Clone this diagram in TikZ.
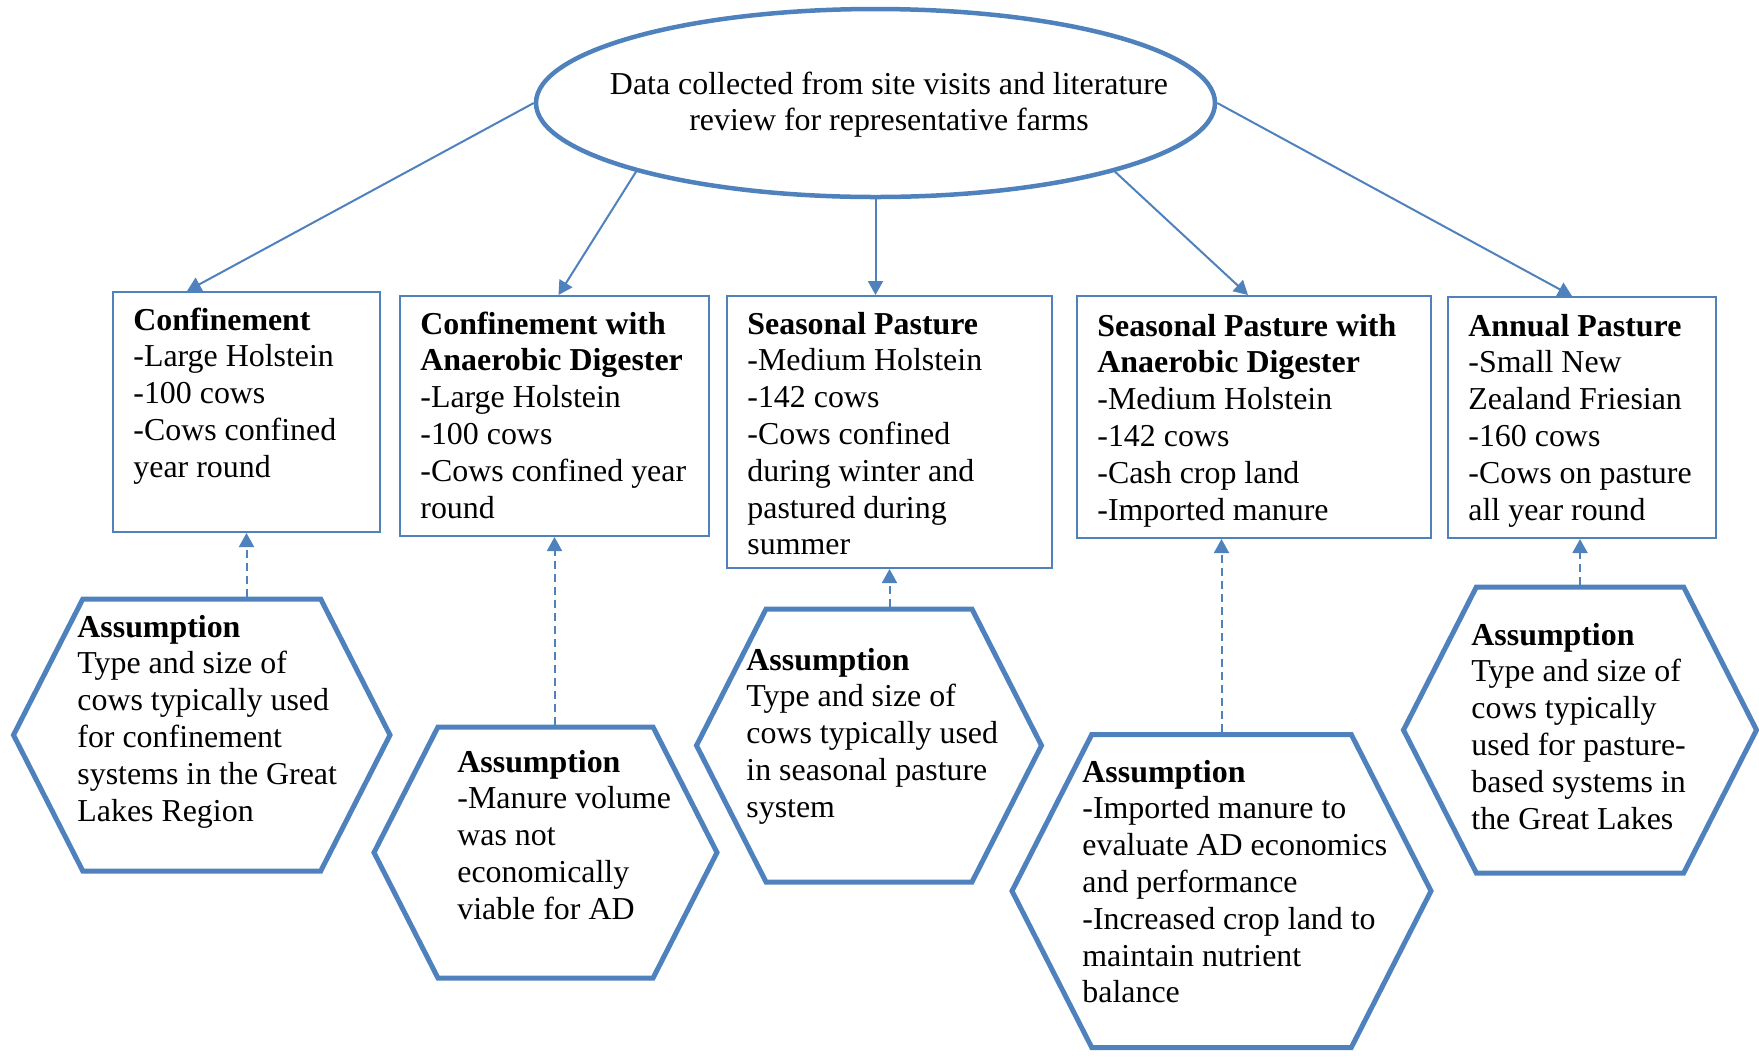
\documentclass[tikz,border=0pt]{standalone}
\usepackage{fontspec}
\setmainfont{Liberation Serif}
\usepackage{tikz}
\usetikzlibrary{positioning,arrows.meta,shapes.geometric,shapes.symbols}
\usepackage{xcolor}
\definecolor{frame}{HTML}{4F81BD}
\definecolor{ink}{HTML}{000000}

\begin{document}
\begin{tikzpicture}[x=0.5pt, y=-0.5pt, >={Triangle[length=7pt,width=7.5pt]},
    font=\fontsize{15.95pt}{18.4pt}\selectfont,
    source/.style={ellipse, draw=frame, line width=2.25pt, inner sep=0pt},
    farm/.style={rectangle, draw=frame, line width=1pt, inner sep=0pt, anchor=north west},
    hexa/.style={signal, signal to=east and west, signal pointer angle=126,
      draw=frame, line width=2.5pt, inner sep=0pt},
    body/.style={ink, anchor=base west, align=left, inner sep=0pt},
    link/.style={->, frame, line width=1pt},
    hint/.style={->, frame, line width=1pt, dash pattern=on 4pt off 2.5pt}]
    \useasboundingbox (0,0) rectangle (1759,1057);

    % source of the data (texts sit on the baseline of their last line)
    \node[source, minimum width=339.5pt, minimum height=94pt] (src) at (875.5,103) {};
    \node[ink, anchor=base, align=center, inner sep=0pt] (srctxt) at (889,130.8)
      {Data collected from site visits and literature\\review for representative farms};

    % representative farms
    \node[farm, minimum width=133.5pt, minimum height=120pt] (b1) at (112,291) {};
    \node[farm, minimum width=154.5pt, minimum height=120pt] (b2) at (399,295) {};
    \node[farm, minimum width=162.5pt, minimum height=136pt] (b3) at (726,295) {};
    \node[farm, minimum width=177pt, minimum height=121pt] (b4) at (1076,295) {};
    \node[farm, minimum width=134pt, minimum height=120.5pt] (b5) at (1447,296) {};

    \node[body] (t1) at (133,477.2) {\textbf{Confinement}\\-Large Holstein\\-100 cows\\-Cows confined\\year round};
    \node[body] (t2) at (420,518) {\textbf{Confinement with}\\\textbf{Anaerobic Digester}\\-Large Holstein\\-100 cows\\-Cows confined year\\round};
    \node[body] (t3) at (747,554.8) {\textbf{Seasonal Pasture}\\-Medium Holstein\\-142 cows\\-Cows confined\\during winter and\\pastured during\\summer};
    \node[body] (t4) at (1097,520) {\textbf{Seasonal Pasture with}\\\textbf{Anaerobic Digester}\\-Medium Holstein\\-142 cows\\-Cash crop land\\-Imported manure};
    \node[body] (t5) at (1468,520) {\textbf{Annual Pasture}\\-Small New\\Zealand Friesian\\-160 cows\\-Cows on pasture\\all year round};

    % assumptions
    \node[hexa, minimum width=188.25pt, minimum height=136pt] (a1) at (201.75,735) {};
    \node[hexa, minimum width=171.5pt, minimum height=125.5pt] (a2) at (545.5,852.5) {};
    \node[hexa, minimum width=172.5pt, minimum height=136.5pt] (a3) at (869,745.5) {};
    \node[hexa, minimum width=209.5pt, minimum height=156.5pt] (a4) at (1221.5,891) {};
    \node[hexa, minimum width=176.5pt, minimum height=143pt] (a5) at (1580,730) {};

    \node[body] (s1) at (77,821) {\textbf{Assumption}\\Type and size of\\cows typically used\\for confinement\\systems in the Great\\Lakes Region};
    \node[body] (s2) at (457,919.2) {\textbf{Assumption}\\-Manure volume\\was not\\economically\\viable for AD};
    \node[body] (s3) at (746,817.2) {\textbf{Assumption}\\Type and size of\\cows typically used\\in seasonal pasture\\system};
    \node[body] (s4) at (1082,1002.8) {\textbf{Assumption}\\-Imported manure to\\evaluate AD economics\\and performance\\-Increased crop land to\\maintain nutrient\\balance};
    \node[body] (s5) at (1471,829) {\textbf{Assumption}\\Type and size of\\cows typically\\used for pasture-\\based systems in\\the Great Lakes};

    % data flow
    \draw[link] (src.west) -- ([xshift=37.5pt]b1.north west);
    \draw[link] (src.196) -- ([xshift=2pt]b2.north);
    \draw[link] (src.south) -- (src.south |- b3.north);
    \draw[link] (src.-16) -- ([xshift=-3pt]b4.north);
    \draw[link] (src.east) -- ([xshift=-5pt]b5.north);

    % assumptions behind each farm
    \draw[hint] (a1.north -| b1.south) -- (b1.south);
    \draw[hint] (a2.north -| b2.south) -- (b2.south);
    \draw[hint] (a3.north -| b3.south) -- (b3.south);
    \draw[hint] (a4.north) -- (a4.north |- b4.south);
    \draw[hint] (a5.north) -- (a5.north |- b5.south);
  \end{tikzpicture}
\end{document}
